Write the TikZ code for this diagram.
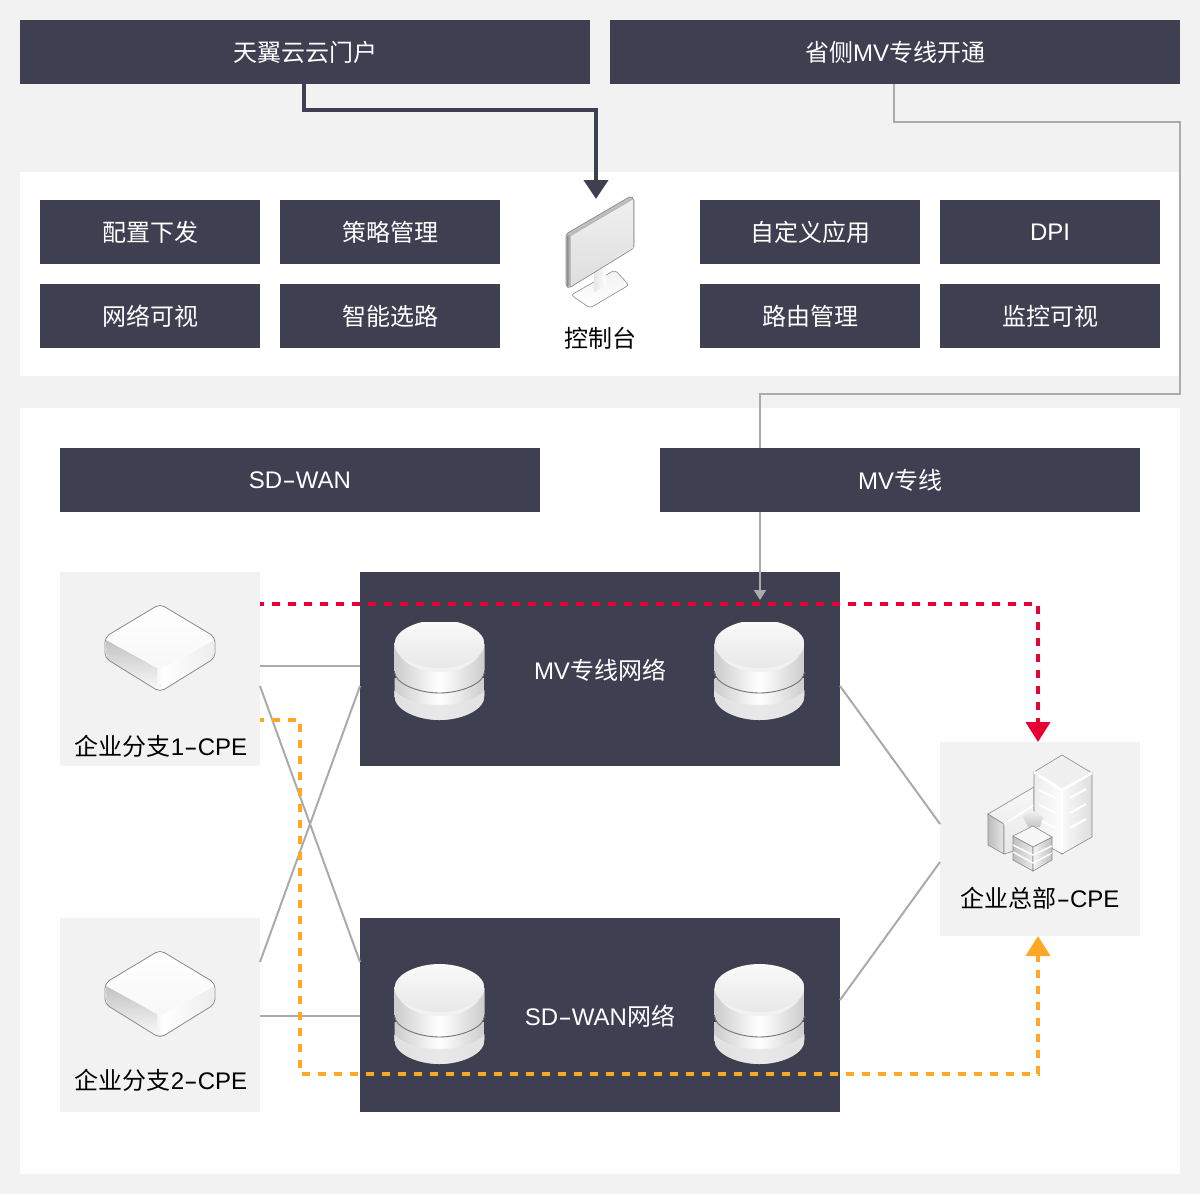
\documentclass[tikz,border=0pt]{standalone}
\usepackage{fontspec}
\setmainfont{Noto Sans CJK SC}
\newfontfamily\latf{Liberation Sans}
\usetikzlibrary{arrows.meta,calc}
\newcommand{\hy}{\scalebox{1.7}[1]{-}}
\definecolor{bg}{HTML}{F2F2F2}
\definecolor{dk}{HTML}{3E3F50}
\definecolor{ln}{HTML}{ABABAB}
\definecolor{redd}{HTML}{E60033}
\definecolor{org}{HTML}{FFA726}
\definecolor{edge}{HTML}{8A8A8A}
\tikzset{
  txt/.style={font=\fontsize{24}{28}\selectfont},
  dkbox/.style={fill=dk,text=white,inner sep=0pt,outer sep=0pt,minimum height=64pt,minimum width=#1,txt},
  dkbox/.default=220pt,
  netbox/.style={fill=dk,inner sep=0pt,outer sep=0pt,minimum width=480pt,minimum height=194pt},
  cpebox/.style={fill=bg,inner sep=0pt,outer sep=0pt,minimum width=200pt,minimum height=194pt},
  lbl/.style={txt,text=black,inner sep=0pt},
  wlbl/.style={txt,text=white,inner sep=0pt},
  thin gray/.style={draw=ln,line width=2pt},
  dashred/.style={draw=redd,line width=4pt,dash pattern=on 8pt off 8pt},
  dashorg/.style={draw=org,line width=4pt,dash pattern=on 8pt off 8pt},
  pics/devicon/.style={code={
    % silhouette
    \fill[white,rounded corners=5pt] (0,-44) -- (55,-11) -- (55,10) -- (0,44) -- (-55,10) -- (-55,-11) -- cycle;
    % side faces
    \shade[top color=black!24,bottom color=black!2] (-54,-8) -- (-3,20) -- (-3,42) -- (-53,11) -- cycle;
    \shade[left color=white,right color=black!7] (3,20) -- (54,-8) -- (54,10) -- (3,42) -- cycle;
    \shade[left color=black!4,right color=white] (-3,20) -- (3,20) -- (3,42) -- (-3,42) -- cycle;
    % top face
    \shade[top color=white,bottom color=black!3,rounded corners=7pt] (0,-43) -- (54,-10) -- (0,22) -- (-54,-10) -- cycle;
    % outline
    \draw[edge,line width=.8pt,rounded corners=5pt] (0,-44) -- (55,-11) -- (55,10) -- (0,44) -- (-55,10) -- (-55,-11) -- cycle;
  }},
  pics/dbicon/.style={code={
    \shade[left color=black!20,right color=black!20,middle color=white]
      (-45,58) -- (-45,76) .. controls (-45,90) and (-22,100) .. (0,100) .. controls (22,100) and (45,90) .. (45,76) -- (45,58) -- cycle;
    \shade[left color=black!8,right color=black!8,middle color=black!12,opacity=.7]
      (-45,70) .. controls (-30,90) and (30,90) .. (45,70) -- (45,76) .. controls (45,90) and (22,100) .. (0,100) .. controls (-22,100) and (-45,90) .. (-45,76) -- cycle;
    \shade[left color=black!20,right color=black!20,middle color=white]
      (-45,24) -- (-45,50) .. controls (-45,63) and (-22,73) .. (0,73) .. controls (22,73) and (45,63) .. (45,50) -- (45,24) -- cycle;
    \draw[black!55,line width=.9pt] (-45,52) .. controls (-45,63) and (-22,73) .. (0,73) .. controls (22,73) and (45,63) .. (45,52);
    \fill[black!5] (-44,27) .. controls (-38,44) and (-20,52) .. (0,52) .. controls (20,52) and (38,44) .. (44,27) -- cycle;
    \shade[top color=black!2,bottom color=black!9]
      (-45,24) .. controls (-45,10) and (-22,0) .. (0,0) .. controls (22,0) and (45,10) .. (45,24) .. controls (45,38) and (22,48) .. (0,48) .. controls (-22,48) and (-45,38) .. (-45,24) -- cycle;
  }},
  pics/monicon/.style={code={
    % base
    \draw[edge,line width=.6pt,top color=black!5,bottom color=white,rounded corners=3pt] (-29,99) -- (15,74) -- (29,89) -- (-10,112) -- cycle;
    % column
    \shade[left color=black!10,right color=white] (-6,72) -- (6,70) -- (6,90) -- (-6,96) -- cycle;
    % screen back/side
    \draw[edge,line width=.7pt,fill=black!25,rounded corners=2pt] (-34,38) -- (31,0) -- (34,3) -- (34,52) -- (-31,92) -- (-34,90) -- cycle;
    \shade[left color=black!45,right color=black!25] (-33,40) -- (-30,38) -- (-30,89) -- (-33,90) -- cycle;
    \shade[top color=black!6,bottom color=black!13] (-29,40) -- (33,3) -- (33,52) -- (-29,90) -- cycle;
    \draw[blue!20!black!30,line width=.8pt] (-29,39) -- (33,3);
  }},
  pics/bldicon/.style={code={
    % low building (left)
    \shade[left color=black!26,right color=black!10,draw=edge,line width=.6pt] (-52,59) -- (-36,69) -- (-36,99) -- (-52,90) -- cycle;
    \shade[top color=black!3,bottom color=black!9,draw=edge,line width=.6pt] (-52,59) -- (-6,32) -- (-6,90) -- (-36,99) -- (-36,69) -- cycle;
    \draw[white,line width=1.5pt] (-36,69) -- (-6,50);
    % tower
    \shade[left color=black!7,right color=black!1,draw=edge,line width=.6pt] (-6,17) -- (22,35) -- (22,99) -- (-6,83) -- cycle;
    \shade[left color=black!2,right color=black!13,draw=edge,line width=.6pt] (22,35) -- (52,18) -- (52,82) -- (22,99) -- cycle;
    \fill[black!6] (22,0) -- (52,18) -- (22,35) -- (-6,17) -- cycle;
    \draw[edge,line width=.6pt] (-6,17) -- (22,0) -- (52,18);
    \draw[white,line width=2.4pt] (-6,17) -- (22,35) -- (52,18);
    \draw[white,line width=2.4pt] (22,36) -- (22,98);
    \draw[white,line width=2pt] (-1,35) -- (16,43) (-1,50) -- (16,58) (-1,65) -- (16,73);
    \draw[white,line width=2pt] (30,43) -- (46,34) (30,58) -- (46,49) (30,73) -- (46,64);
    % gem
    \shade[top color=black!4,bottom color=black!22] (-10,54) -- (-17,62) -- (-12,72) -- (0,72) -- (3,62) -- cycle;
    % stack
    \shade[left color=black!25,right color=black!8,draw=edge,line width=.6pt] (-27,81) -- (-7,92) -- (-7,116) -- (-27,105) -- cycle;
    \shade[left color=black!4,right color=black!25,draw=edge,line width=.6pt] (-7,92) -- (12,82) -- (12,105) -- (-7,116) -- cycle;
    \draw[white,line width=1.4pt] (-27,90) -- (-7,100) -- (12,91) (-27,97) -- (-7,108) -- (12,98);
    \draw[fill=black!3,draw=edge,line width=.6pt] (-27,81) -- (-7,71) -- (12,82) -- (-7,92) -- cycle;
  }}
}
\begin{document}
\begin{tikzpicture}[x=1pt,y=-1pt]
\useasboundingbox (0,0) rectangle (1200,1194);
\fill[bg] (0,0) rectangle (1200,1194);
\fill[white] (20,172) rectangle (1180,376);
\fill[white] (20,408) rectangle (1180,1174);

% top boxes
\node[dkbox=570pt] (portal) at (305,52) {\raisebox{-1pt}{天翼云云门户}};
\node[dkbox=570pt] (prov) at (895,52) {\raisebox{-1pt}{省侧{\latf MV}专线开通}};
% function boxes
\node[dkbox] (b1) at (150,232) {\raisebox{-1pt}{配置下发}};
\node[dkbox] (b2) at (390,232) {\raisebox{-1pt}{策略管理}};
\node[dkbox] (b3) at (150,316) {\raisebox{-1pt}{网络可视}};
\node[dkbox] (b4) at (390,316) {\raisebox{-1pt}{智能选路}};
\node[dkbox] (b5) at (810,232) {\raisebox{-1pt}{自定义应用}};
\node[dkbox] (b6) at (1050,232) {\latf DPI};
\node[dkbox] (b7) at (810,316) {\raisebox{-1pt}{路由管理}};
\node[dkbox] (b8) at (1050,316) {\raisebox{-1pt}{监控可视}};
% console
\pic at (600,196) {monicon};
\coordinate (consoletop) at (596,199);
\node[lbl] (console) at (600,338) {控制台};
% band headers
\node[dkbox=480pt] (sdwan) at (300,480) {\latf SD\hy WAN};
\node[dkbox=480pt] (mv) at (900,480) {\raisebox{-1pt}{{\latf MV}专线}};
% networks and sites
\node[netbox] (mvnet) at (600,669) {};
\node[netbox] (sdnet) at (600,1015) {};
\node[cpebox] (cpe1) at (160,669) {};
\node[cpebox] (cpe2) at (160,1015) {};
\node[cpebox] (hq) at (1040,839) {};
\node[wlbl] (mvlabel) at (600,670) {{\latf MV}专线网络};
\node[wlbl] (sdlabel) at (600,1016) {{\latf SD\hy WAN}网络};
\node[lbl] (cpe1l) at (161,746) {企业分支{\latf 1\hy CPE}};
\node[lbl] (cpe2l) at (161,1080) {企业分支{\latf 2\hy CPE}};
\node[lbl] (hql) at (1040,898) {企业总部{\latf \hy CPE}};
% icons
\pic at (160,648) {devicon};
\pic at (160,994) {devicon};
\pic at (1040,755) {bldicon};
\begin{scope}
  \clip (360,622) rectangle (840,766);
  \pic at (439.5,620) {dbicon};
  \pic at (759.5,620) {dbicon};
\end{scope}
\pic at (439.5,964) {dbicon};
\pic at (759.5,964) {dbicon};

% connectors
\draw[dk,line width=4pt,-{Triangle[width=24pt,length=19pt]}] ([xshift=-1pt]portal.south) -- ++(0,26) -| (consoletop);
\coordinate (mvtop) at (760,448);
\draw[thin gray] ([xshift=-1pt]prov.south) |- (1180,122) -- (1180,394) -| (mvtop);
\coordinate (mvin) at (760,600);
\draw[thin gray,-{Triangle[width=12pt,length=10pt]}] (mvin |- mv.south) -- (mvin);

\draw[thin gray] ([yshift=3pt]cpe1.east) -- ([yshift=3pt]mvnet.west);
\draw[thin gray] ([yshift=-17pt]cpe1.east) -- ([yshift=53pt]sdnet.west);
\draw[thin gray] ([yshift=53pt]cpe2.east) -- ([yshift=-17pt]mvnet.west);
\draw[thin gray] ([yshift=-1pt]cpe2.east) -- ([yshift=-1pt]sdnet.west);
\draw[thin gray] ([yshift=-17pt]mvnet.east) -- ([yshift=15pt]hq.west);
\draw[thin gray] ([yshift=15pt]sdnet.east) -- ([yshift=-23pt]hq.west);

\coordinate (hqn) at (1038,742);
\coordinate (hqs) at (1038,936);
\draw[dashred,dash phase=4pt,-{Triangle[width=24pt,length=20pt]}] ([yshift=65pt]cpe1.east) -- ++(778,0) -- (hqn);
\draw[dashorg,dash phase=4pt,-{Triangle[width=24pt,length=20pt]}] ([yshift=-51pt]cpe1.east) -- ++(40,0) -- ++(0,354) -- ++(738,0) -- (hqs);
\end{tikzpicture}
\end{document}
